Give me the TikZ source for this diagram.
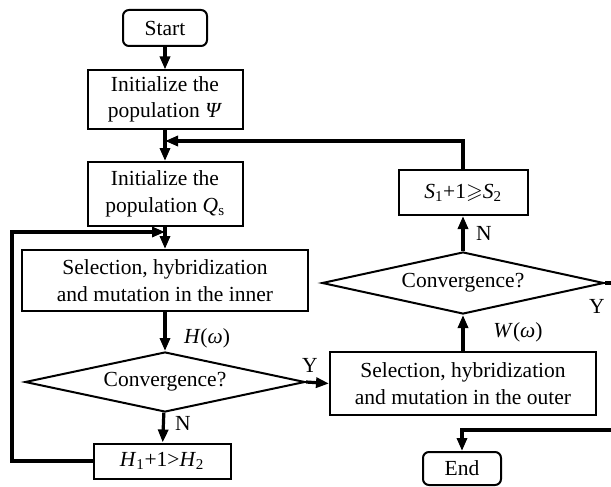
\documentclass[tikz,border=0pt]{standalone}
\usepackage{fontspec}
\usepackage{amssymb}
\setmainfont{Liberation Serif}
\usetikzlibrary{shapes.geometric,arrows.meta}
\begin{document}
\begin{tikzpicture}[x=1pt,y=-1pt,
  font=\fontsize{21.5}{26.5}\selectfont,
  box/.style={draw,line width=2pt,align=center,inner sep=0pt},
  term/.style={box,rounded corners=6pt},
  dia/.style={draw,line width=2pt,diamond,aspect=4.6,inner sep=0pt},
  conn/.style={line width=3.2pt,-{Triangle[length=13pt,width=10pt]}},
  plain/.style={line width=3.2pt},
  lbl/.style={inner sep=0pt}]
\useasboundingbox (0,0) rectangle (611,487);
\node[term,minimum width=84pt,minimum height=36pt] (start) at (165,28) {Start};
\node[box,minimum width=155pt,minimum height=58pt] (psi) at (165,99.5) {Initialize the\\population \textit{Ψ}};
\node[box,minimum width=155pt,minimum height=64pt] (qs) at (165,194) {Initialize the\\population \textit{Q}\textsubscript{s}};
\node[box,minimum width=286pt,minimum height=61pt] (selin) at (165,280.5) {Selection, hybridization\\and mutation in the inner};
\node[dia,minimum width=280pt,minimum height=60pt] (conv1) at (165,382) {Convergence?};
\node[box,minimum width=137pt,minimum height=35pt] (hbox) at (162,461) {\textit{H}\textsubscript{1}+1>\textit{H}\textsubscript{2}};
\node[box,minimum width=266pt,minimum height=63pt] (selout) at (463,383.5) {Selection, hybridization\\and mutation in the outer};
\node[dia,minimum width=282pt,minimum height=62pt] (conv2) at (463,283) {Convergence?};
\node[box,minimum width=129pt,minimum height=45pt] (sbox) at (463,192.5) {\textit{S}\textsubscript{1}+1$\geqslant$\textit{S}\textsubscript{2}};
\node[term,minimum width=78pt,minimum height=33pt] (end) at (462,468.5) {End};

\coordinate (j1) at (165,141);
\coordinate (j2) at (165,232);
\coordinate (lc) at (12,232);
\coordinate (rc1) at (611,283);
\coordinate (rc2) at (611,430);

\draw[conn] (start) -- (psi);
\draw[conn] (psi) -- (qs);
\draw[conn] (sbox.north) |- (j1);
\draw[conn] (qs) -- (selin);
\draw[conn] (hbox.west) -| (lc) -- (j2);
\draw[conn] (selin) -- (conv1);
\draw[conn] (conv1) -- (hbox);
\draw[conn] (conv1.east) -- (selout.west);
\draw[conn] (selout) -- (conv2);
\draw[conn] (conv2) -- (sbox);
\draw[plain] (conv2.east) -- (rc1);
\draw[conn] (rc2) -| (end.north);

\node[lbl] (lh) at (207,338) {\textit{H}(\textit{ω})};
\node[lbl] (ln1) at (183,423) {N};
\node[lbl] (ly1) at (310,365) {Y};
\node[lbl] (lw) at (518,332) {\textit{W}(\textit{ω})};
\node[lbl] (ln2) at (484,233) {N};
\node[lbl] (ly2) at (597,306) {Y};
\end{tikzpicture}
\end{document}
